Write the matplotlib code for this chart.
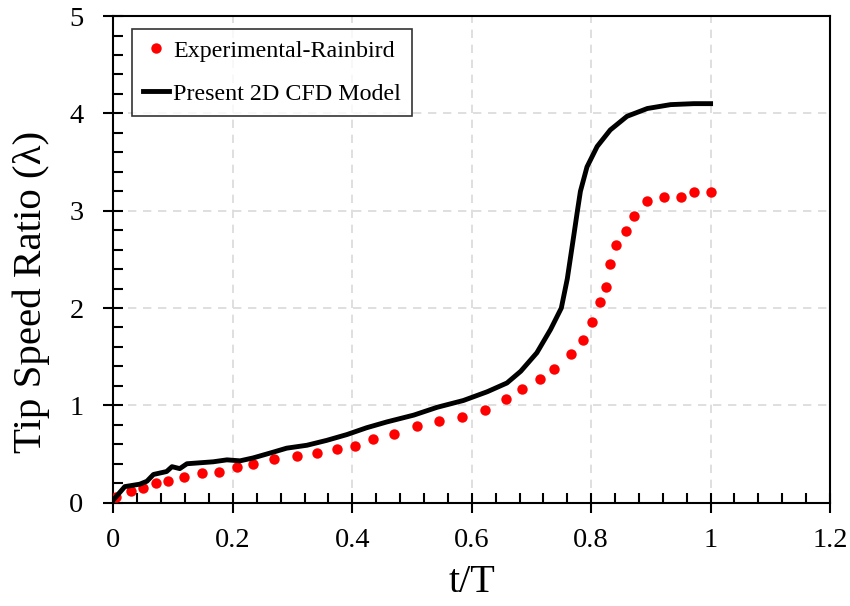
import matplotlib
matplotlib.use('Agg')
import matplotlib.pyplot as plt
from matplotlib.ticker import MultipleLocator

plt.rcParams['font.family'] = ['Liberation Serif', 'DejaVu Serif']

# ======================
# DATA
# ======================

exp_t = [0.004, 0.029, 0.049, 0.071, 0.092, 0.118, 0.148, 0.176, 0.207, 0.234,
         0.268, 0.307, 0.341, 0.375, 0.405, 0.434, 0.470, 0.508, 0.545, 0.583,
         0.623, 0.658, 0.684, 0.714, 0.738, 0.766, 0.786, 0.802, 0.814, 0.825,
         0.832, 0.842, 0.858, 0.872, 0.893, 0.922, 0.951, 0.973, 1.0]
exp_tsr = [0.06, 0.12, 0.15, 0.20, 0.22, 0.26, 0.30, 0.32, 0.37, 0.40,
           0.45, 0.48, 0.51, 0.555, 0.58, 0.65, 0.71, 0.79, 0.84, 0.88,
           0.95, 1.07, 1.165, 1.27, 1.37, 1.53, 1.675, 1.86, 2.065, 2.22,
           2.45, 2.645, 2.795, 2.95, 3.10, 3.145, 3.14, 3.19, 3.19]

cfd_t = [0.0, 0.019, 0.044, 0.056, 0.067, 0.089, 0.098, 0.111, 0.123, 0.145,
         0.167, 0.19, 0.212, 0.234, 0.268, 0.29, 0.324, 0.357, 0.391, 0.424,
         0.458, 0.503, 0.542, 0.586, 0.626, 0.659, 0.682, 0.709, 0.732, 0.750,
         0.760, 0.771, 0.777, 0.782, 0.793, 0.810, 0.832, 0.860, 0.894, 0.933,
         0.972, 1.0]
cfd_tsr = [0.03, 0.165, 0.19, 0.22, 0.29, 0.32, 0.37, 0.35, 0.40, 0.41,
           0.42, 0.44, 0.43, 0.46, 0.52, 0.56, 0.59, 0.64, 0.70, 0.77,
           0.83, 0.90, 0.98, 1.05, 1.14, 1.23, 1.35, 1.54, 1.78, 2.0,
           2.3, 2.75, 3.0, 3.2, 3.45, 3.66, 3.83, 3.97, 4.05, 4.09,
           4.10, 4.10]

x_ticks = [0, 0.2, 0.4, 0.6, 0.8, 1.0, 1.2]
x_tick_labels = ['0', '0.2', '0.4', '0.6', '0.8', '1', '1.2']

# ======================
# PLOT
# ======================

fig = plt.figure(figsize=(8.5, 6.06), dpi=100)
ax = fig.add_axes([0.1335, 0.1705, 0.843, 0.803])

ax.plot(exp_t, exp_tsr, 'o', color='#ff0000', markersize=7.5,
        markeredgewidth=0, label='Experimental-Rainbird', zorder=3)
ax.plot(cfd_t, cfd_tsr, '-', color='black', linewidth=3.5,
        label='Present 2D CFD Model', zorder=4)

ax.set_xlim(0, 1.2)
ax.set_ylim(0, 5)
ax.set_xticks(x_ticks)
ax.set_xticklabels(x_tick_labels)
ax.xaxis.set_minor_locator(MultipleLocator(0.04))
ax.yaxis.set_major_locator(MultipleLocator(1))
ax.yaxis.set_minor_locator(MultipleLocator(0.2))

ax.tick_params(which='major', direction='inout', length=15, width=1.5,
               labelsize=20.5)
ax.tick_params(which='minor', direction='in', length=7, width=1.5)
ax.tick_params(axis='x', which='major', pad=11)
ax.tick_params(axis='y', which='major', pad=14)

for s in ax.spines.values():
    s.set_linewidth(1.5)

ax.grid(which='major', color='#d9d9d9', linestyle=(0, (5, 4)), linewidth=1.2)
ax.set_axisbelow(True)

ax.set_xlabel('t/T', fontsize=29, labelpad=8)
ax.set_ylabel('Tip Speed Ratio (λ)', fontsize=29.5)
ax.yaxis.set_label_coords(-0.0886, 0.433)

leg = ax.legend(loc='upper left', bbox_to_anchor=(0.026, 0.973), fontsize=17.3,
                frameon=True, fancybox=False, edgecolor='black',
                handlelength=1.1, handletextpad=0.15, borderpad=0.45,
                labelspacing=0.88, borderaxespad=0)
leg.get_frame().set_linewidth(1.2)

plt.savefig('out.png', dpi=100)
plt.close()
